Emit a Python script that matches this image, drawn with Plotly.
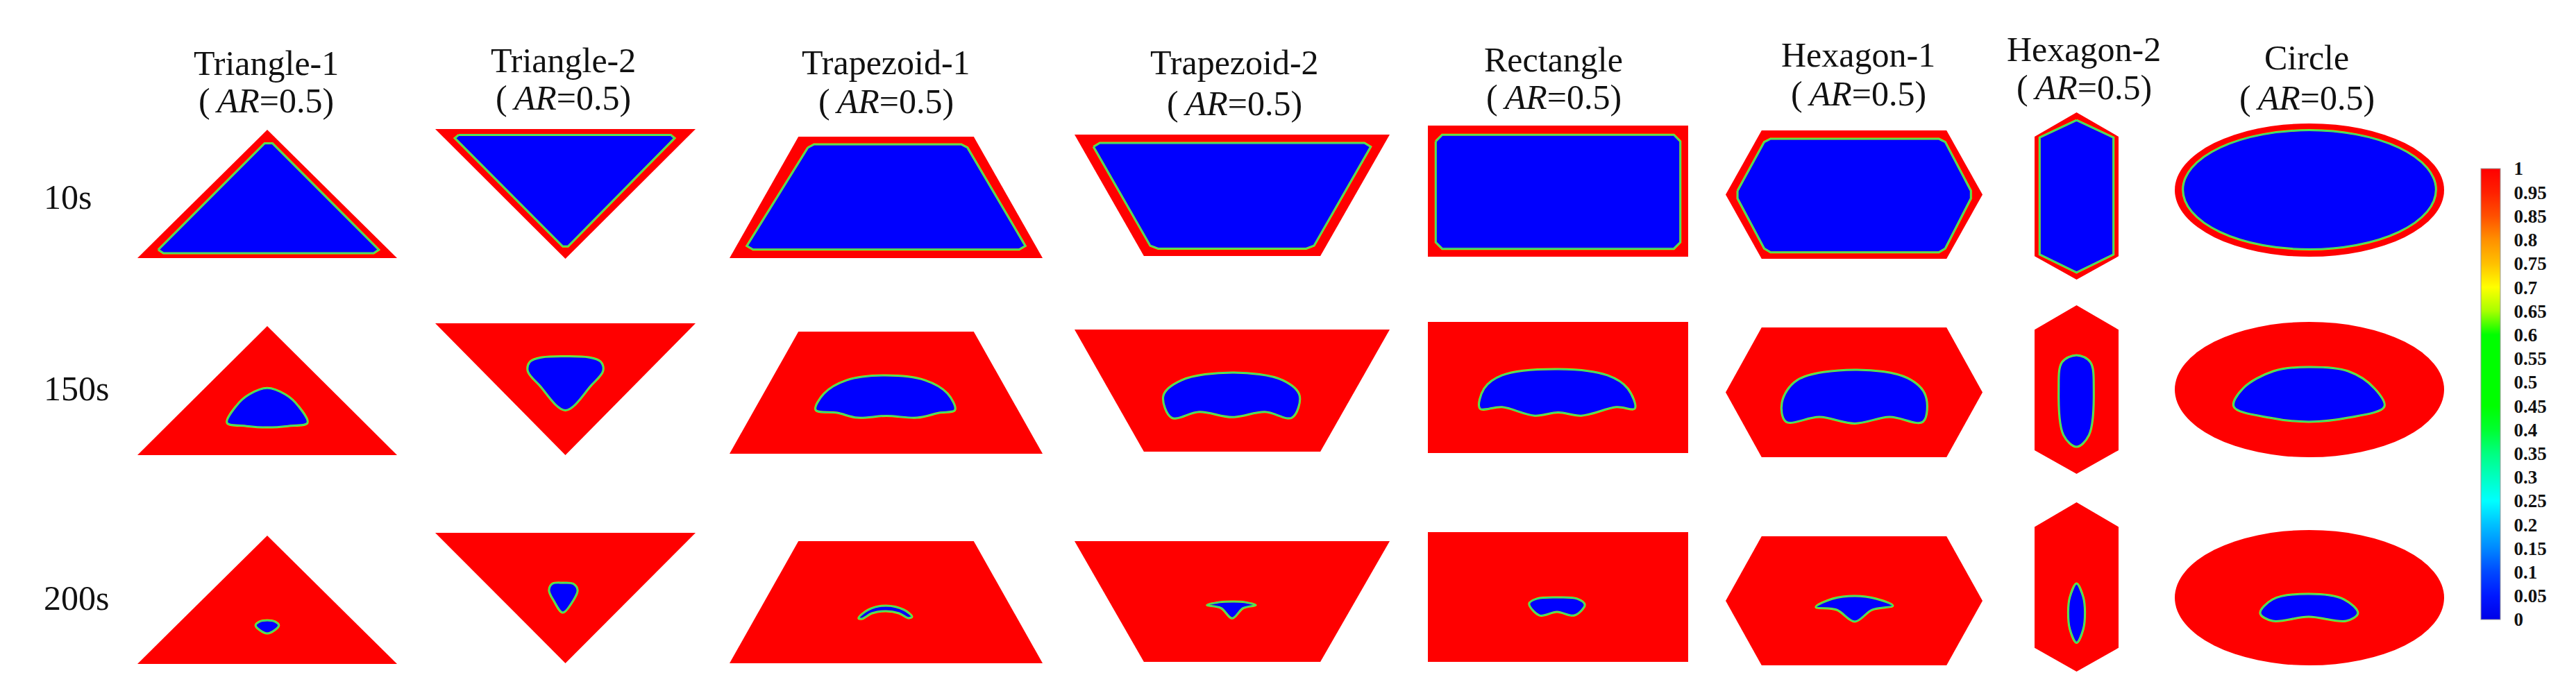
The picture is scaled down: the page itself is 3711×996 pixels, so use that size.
import plotly.graph_objects as go
import numpy as np

W, H = 3711, 996

# ---------------- data ----------------
COLUMN_NAMES = ["Triangle-1", "Triangle-2", "Trapezoid-1", "Trapezoid-2",
                "Rectangle", "Hexagon-1", "Hexagon-2", "Circle"]
AR_TEXT = "(\u2009<i>AR</i>=0.5)"
TIME_LABELS = ["10s", "150s", "200s"]

# Outlines in normalized panel units (u: left->right, v: top->bottom)
TRI1_OUTER = [(0, 1), (0.5, 0), (1, 1)]
TRI1_10S = [(0.08, 0.935), (0.49, 0.105), (0.52, 0.105), (0.93, 0.935), (0.91, 0.962), (0.1, 0.962)]
TRI1_150S = [(0.345, 0.75), (0.38, 0.62), (0.43, 0.53), (0.5, 0.48), (0.57, 0.53), (0.62, 0.62),
             (0.655, 0.75), (0.58, 0.775), (0.5, 0.785), (0.42, 0.775)]
TRI1_200S = [(0.455, 0.70), (0.47, 0.67), (0.5, 0.66), (0.53, 0.67), (0.545, 0.70), (0.53, 0.735),
             (0.5, 0.762), (0.47, 0.735)]

TRI2_OUTER = [(0, 0), (1, 0), (0.5, 1)]
TRI2_10S = [(0.09, 0.045), (0.905, 0.045), (0.92, 0.07), (0.51, 0.905), (0.49, 0.905), (0.075, 0.07)]
TRI2_150S = [(0.5, 0.25), (0.59, 0.258), (0.635, 0.29), (0.645, 0.36), (0.6, 0.47), (0.5, 0.66),
             (0.4, 0.47), (0.355, 0.36), (0.365, 0.29), (0.41, 0.258)]
TRI2_200S = [(0.49, 0.383), (0.53, 0.39), (0.547, 0.44), (0.53, 0.52), (0.49, 0.612), (0.455, 0.52),
             (0.437, 0.44), (0.45, 0.39)]

TRAP1_OUTER = [(0.22, 0), (0.78, 0), (1, 1), (0, 1)]
TRAP1_10S = [(0.25, 0.09), (0.27, 0.063), (0.74, 0.063), (0.76, 0.09), (0.945, 0.9), (0.925, 0.93),
             (0.075, 0.93), (0.055, 0.9)]
TRAP1_150S = [(0.275, 0.642), (0.302, 0.506), (0.373, 0.398), (0.497, 0.358), (0.625, 0.398),
              (0.696, 0.506), (0.72, 0.642), (0.67, 0.665), (0.599, 0.705), (0.501, 0.69),
              (0.408, 0.705), (0.344, 0.665)]
TRAP1_200S = [(0.412, 0.631), (0.443, 0.562), (0.499, 0.528), (0.557, 0.562), (0.583, 0.619),
              (0.572, 0.631), (0.541, 0.591), (0.499, 0.574), (0.455, 0.591), (0.423, 0.636)]

TRAP2_OUTER = [(0, 0), (1, 0), (0.78, 1), (0.22, 1)]
TRAP2_10S = [(0.06, 0.1), (0.08, 0.069), (0.92, 0.069), (0.94, 0.1), (0.76, 0.915), (0.735, 0.94),
             (0.265, 0.94), (0.24, 0.915)]
TRAP2_150S = [(0.308, 0.722), (0.282, 0.54), (0.339, 0.415), (0.5, 0.352), (0.661, 0.415),
              (0.714, 0.54), (0.69, 0.722), (0.604, 0.675), (0.5, 0.718), (0.396, 0.675)]
TRAP2_200S = [(0.42, 0.53), (0.46, 0.505), (0.5, 0.5), (0.54, 0.505), (0.575, 0.53), (0.535, 0.555),
              (0.5, 0.64), (0.465, 0.555)]

RECT_OUTER = [(0, 0), (1, 0), (1, 1), (0, 1)]
RECT_10S = [(0.03, 0.12), (0.055, 0.07), (0.945, 0.07), (0.97, 0.12), (0.97, 0.89), (0.945, 0.94),
            (0.055, 0.94), (0.03, 0.89)]
RECT_150S = [(0.2, 0.661), (0.216, 0.508), (0.285, 0.407), (0.501, 0.36), (0.69, 0.407),
             (0.768, 0.508), (0.795, 0.661), (0.725, 0.65), (0.589, 0.715), (0.501, 0.69),
             (0.411, 0.715), (0.285, 0.65)]
RECT_200S = [(0.389, 0.551), (0.419, 0.513), (0.496, 0.503), (0.573, 0.513), (0.603, 0.56),
             (0.563, 0.642), (0.496, 0.615), (0.429, 0.642)]

HEX1_OUTER = [(0, 0.5), (0.14, 0), (0.86, 0), (1, 0.5), (0.86, 1), (0.14, 1)]
HEX1_10S = [(0.046, 0.47), (0.15, 0.09), (0.175, 0.065), (0.83, 0.065), (0.855, 0.09), (0.955, 0.47),
            (0.955, 0.53), (0.855, 0.92), (0.83, 0.95), (0.175, 0.95), (0.15, 0.92), (0.046, 0.53)]
HEX1_150S = [(0.235, 0.727), (0.219, 0.578), (0.278, 0.406), (0.503, 0.326), (0.708, 0.39),
             (0.778, 0.524), (0.768, 0.727), (0.638, 0.69), (0.503, 0.74), (0.365, 0.69)]
HEX1_200S = [(0.351, 0.548), (0.416, 0.484), (0.503, 0.462), (0.586, 0.484), (0.651, 0.538),
             (0.57, 0.57), (0.503, 0.661), (0.432, 0.57)]

HEX2_OUTER = [(0.5, 0), (1, 0.145), (1, 0.86), (0.5, 1), (0, 0.86), (0, 0.145)]
HEX2_10S = [(0.5, 0.046), (0.94, 0.15), (0.94, 0.85), (0.5, 0.958), (0.06, 0.85), (0.06, 0.15)]
HEX2_150S = [(0.5, 0.296), (0.328, 0.337), (0.287, 0.494), (0.344, 0.77), (0.5, 0.84),
             (0.648, 0.77), (0.705, 0.494), (0.664, 0.337)]
HEX2_200S = [(0.5, 0.48), (0.58, 0.56), (0.6, 0.65), (0.58, 0.75), (0.5, 0.83), (0.42, 0.75),
             (0.4, 0.65), (0.42, 0.56)]

CIRC_OUTER = (0.0, 1.0, 0.0, 1.0)      # ellipse bounds u0,u1,v0,v1
CIRC_10S = (0.03, 0.97, 0.05, 0.945)
CIRC_150S = [(0.219, 0.626), (0.253, 0.492), (0.366, 0.364), (0.497, 0.333), (0.644, 0.364),
             (0.742, 0.492), (0.778, 0.626), (0.644, 0.708), (0.497, 0.738), (0.351, 0.708)]
CIRC_200S = [(0.317, 0.615), (0.363, 0.513), (0.497, 0.472), (0.629, 0.513), (0.68, 0.615),
             (0.637, 0.672), (0.497, 0.641), (0.363, 0.672)]

OUTERS = [TRI1_OUTER, TRI2_OUTER, TRAP1_OUTER, TRAP2_OUTER, RECT_OUTER, HEX1_OUTER, HEX2_OUTER, CIRC_OUTER]
INNERS = [
    [TRI1_10S, TRI1_150S, TRI1_200S],
    [TRI2_10S, TRI2_150S, TRI2_200S],
    [TRAP1_10S, TRAP1_150S, TRAP1_200S],
    [TRAP2_10S, TRAP2_150S, TRAP2_200S],
    [RECT_10S, RECT_150S, RECT_200S],
    [HEX1_10S, HEX1_150S, HEX1_200S],
    [HEX2_10S, HEX2_150S, HEX2_200S],
    [CIRC_10S, CIRC_150S, CIRC_200S],
]

CB_LABELS = ["0", "0.05", "0.1", "0.15", "0.2", "0.25", "0.3", "0.35", "0.4", "0.45",
             "0.5", "0.55", "0.6", "0.65", "0.7", "0.75", "0.8", "0.85", "0.95", "1"]
CB_COLORS = ["#0000E8", "#0018FF", "#0048FF", "#0088FF", "#00C0FF", "#00FFFF", "#00FFC0",
             "#00FF80", "#00FF30", "#00FF00", "#00FF00", "#00FF00", "#00FF00", "#A8FF00",
             "#FFFF00", "#FFC000", "#FF9000", "#FF5000", "#FF2000", "#FF0000"]

# ---------------- layout (pixel boxes of panels) ----------------
COL_X = [(190, 564), (619, 994), (1043, 1494), (1540, 1994), (2049, 2424), (2478, 2848),
         (2923, 3044), (3125, 3513)]
COL_ROWS_Y = [
    [(179, 364), (462, 648), (764, 949)],
    [(178, 365), (458, 648), (760, 948)],
    [(189, 364), (470, 646), (772, 948)],
    [(186, 361), (467, 643), (772, 946)],
    [(173, 362), (456, 645), (759, 946)],
    [(180, 365), (464, 651), (765, 951)],
    [(154, 395), (432, 675), (716, 960)],
    [(170, 362), (456, 651), (756, 951)],
]
TITLE_POS = [(375, 83, 137), (803, 79, 133), (1268, 82, 138), (1770, 82, 141), (2230, 78, 132),
             (2669, 71, 127), (2994, 63, 118), (3315, 75, 133)]
ROW_LABEL_Y = [276, 552, 854]

RED = "#FF0000"
BLUE = "#0000FF"
IF_OUTER = "#A8EE00"
IF_INNER = "#00D8A8"
SMOOTH = 1.0

fig = go.Figure()
layout_axes = {}
shapes = []

for c in range(8):
    for r in range(3):
        i = r * 8 + c + 1
        xs = "" if i == 1 else str(i)
        x0, x1 = COL_X[c]
        y0, y1 = COL_ROWS_Y[c][r]
        layout_axes["xaxis" + xs] = dict(domain=[x0 / W, x1 / W], range=[0, 1], visible=False,
                                         fixedrange=True, anchor="y" + xs)
        layout_axes["yaxis" + xs] = dict(domain=[1 - y1 / H, 1 - y0 / H], range=[1, 0], visible=False,
                                         fixedrange=True, anchor="x" + xs)
        xref, yref = "x" + xs, "y" + xs
        outer = OUTERS[c]
        if c == 7:
            u0, u1, v0, v1 = outer
            shapes.append(dict(type="circle", xref=xref, yref=yref, x0=u0, x1=u1, y0=v0, y1=v1,
                               fillcolor=RED, line=dict(width=0), layer="below"))
        else:
            pts = list(outer) + [outer[0]]
            fig.add_trace(go.Scatter(x=[p[0] for p in pts], y=[p[1] for p in pts], mode="lines",
                                     fill="toself", fillcolor=RED, line=dict(width=0, color=RED),
                                     xaxis=xref, yaxis=yref, hoverinfo="skip", showlegend=False))
        inner = INNERS[c][r]
        if isinstance(inner, tuple):
            u0, u1, v0, v1 = inner
            shapes.append(dict(type="circle", xref=xref, yref=yref, x0=u0, x1=u1, y0=v0, y1=v1,
                               fillcolor=BLUE, line=dict(width=3, color=IF_OUTER), layer="below"))
            shapes.append(dict(type="circle", xref=xref, yref=yref, x0=u0, x1=u1, y0=v0, y1=v1,
                               line=dict(width=1.2, color=IF_INNER), layer="below"))
        else:
            pts = list(inner) + [inner[0]]
            lshape = "linear" if r == 0 else "spline"
            xs_ = [p[0] for p in pts]
            ys_ = [p[1] for p in pts]
            fig.add_trace(go.Scatter(x=xs_, y=ys_, mode="lines", fill="toself", fillcolor=BLUE,
                                     line=dict(width=3, color=IF_OUTER, shape=lshape, smoothing=SMOOTH),
                                     xaxis=xref, yaxis=yref, hoverinfo="skip", showlegend=False))
            fig.add_trace(go.Scatter(x=xs_, y=ys_, mode="lines",
                                     line=dict(width=1.2, color=IF_INNER, shape=lshape, smoothing=SMOOTH),
                                     xaxis=xref, yaxis=yref, hoverinfo="skip", showlegend=False))

# colour bar carrier
cb_pos = np.linspace(0, 1, len(CB_LABELS))
fig.add_trace(go.Scatter(x=[None], y=[None], mode="markers",
                         marker=dict(color=[0.5], coloraxis="coloraxis"),
                         showlegend=False, hoverinfo="skip"))

annotations = []
FONT = "Liberation Serif, Times New Roman, serif"
for c, name in enumerate(COLUMN_NAMES):
    cx, ty1, ty2 = TITLE_POS[c]
    annotations.append(dict(text=name, x=cx / W, y=1 - ty1 / H, xref="paper", yref="paper",
                            xanchor="center", yanchor="middle", showarrow=False,
                            font=dict(family=FONT, size=50, color="#111")))
    annotations.append(dict(text=AR_TEXT, x=cx / W, y=1 - ty2 / H, xref="paper", yref="paper",
                            xanchor="center", yanchor="middle", showarrow=False,
                            font=dict(family=FONT, size=50, color="#111")))
for r, lab in enumerate(TIME_LABELS):
    annotations.append(dict(text=lab, x=53 / W, y=1 - ROW_LABEL_Y[r] / H, xref="paper", yref="paper",
                            xanchor="left", yanchor="middle", showarrow=False,
                            font=dict(family=FONT, size=50, color="#111")))

fig.update_layout(
    width=W, height=H,
    margin=dict(l=0, r=0, t=0, b=0),
    paper_bgcolor="white", plot_bgcolor="white",
    showlegend=False,
    shapes=shapes,
    annotations=annotations,
    coloraxis=dict(
        cmin=0, cmax=1,
        colorscale=[[float(p), col] for p, col in zip(cb_pos, CB_COLORS)],
        colorbar=dict(
            x=3566 / W, xanchor="left", xpad=0,
            y=1 - 560 / H, yanchor="middle", ypad=0,
            len=650, lenmode="pixels", thickness=28, thicknessmode="pixels",
            outlinewidth=1, outlinecolor="#999",
            tickvals=list(cb_pos), ticktext=CB_LABELS,
            ticks="outside", ticklen=14, tickcolor="rgba(0,0,0,0)",
            tickfont=dict(family=FONT, size=27, color="#111", weight="bold"),
        ),
    ),
    **layout_axes,
)

fig.write_html("out.html")
